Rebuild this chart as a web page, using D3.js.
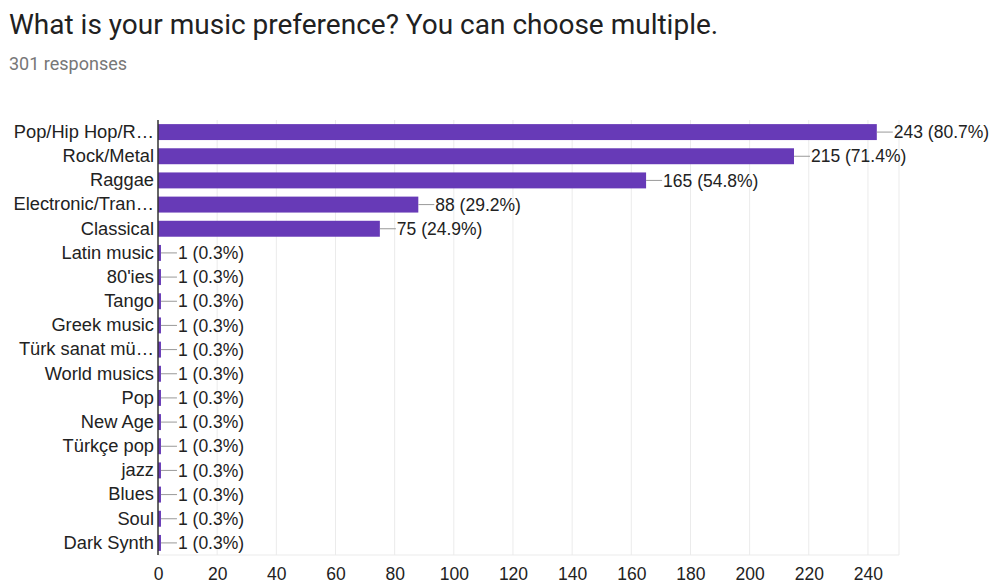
<!DOCTYPE html>
<html>
<head>
<meta charset="utf-8">
<script src="https://cdn.jsdelivr.net/npm/d3@7"></script>
<style>
  body { margin: 0; background: #fff; }
  .title { font-family: Roboto, "Liberation Sans", sans-serif; }
  .chartText { font-family: "Liberation Sans", Arial, sans-serif; fill: #222; }
</style>
</head>
<body>
<div id="chart"></div>
<script>
// chart data
var categories = [
  "Pop/Hip Hop/R\u2026", "Rock/Metal", "Raggae", "Electronic/Tran\u2026", "Classical",
  "Latin music", "80'ies", "Tango", "Greek music", "Türk sanat mü\u2026",
  "World musics", "Pop", "New Age", "Türkçe pop", "jazz", "Blues", "Soul", "Dark Synth"
];
var counts = [243, 215, 165, 88, 75, 1, 1, 1, 1, 1, 1, 1, 1, 1, 1, 1, 1, 1];
var totalResponses = 301;
var xTicks = [0, 20, 40, 60, 80, 100, 120, 140, 160, 180, 200, 220, 240];

var titleText = "What is your music preference? You can choose multiple.";
var subtitleText = totalResponses + " responses";

var width = 998;
var height = 586;

var svg = d3.select("#chart")
  .append("svg")
  .attr("width", width)
  .attr("height", height);

// Header
svg.append("text")
  .attr("class", "title")
  .attr("x", 9)
  .attr("y", 34)
  .attr("font-size", 28)
  .attr("fill", "#212121")
  .text(titleText);

svg.append("text")
  .attr("class", "title")
  .attr("x", 9)
  .attr("y", 70)
  .attr("font-size", 18)
  .attr("fill", "#777")
  .text(subtitleText);

// Plot area
var plotLeft = 158;
var plotRight = 899;
var plotTop = 120;
var plotBottom = 555;

var x = d3.scaleLinear()
  .domain([0, 250.5])
  .range([plotLeft, plotRight]);

var y = d3.scaleBand()
  .domain(categories)
  .range([plotTop, plotBottom])
  .paddingInner(0.34)
  .paddingOuter(0.17);

// gridlines
svg.append("g")
  .selectAll("line")
  .data(xTicks.slice(1))
  .enter()
  .append("line")
  .attr("x1", function(d) { return x(d); })
  .attr("x2", function(d) { return x(d); })
  .attr("y1", plotTop)
  .attr("y2", plotBottom)
  .attr("stroke", "#ebebeb")
  .attr("stroke-width", 1);

// plot frame (right + bottom)
svg.append("line")
  .attr("x1", plotRight).attr("x2", plotRight)
  .attr("y1", plotTop).attr("y2", plotBottom)
  .attr("stroke", "#ebebeb");
svg.append("line")
  .attr("x1", plotLeft).attr("x2", plotRight)
  .attr("y1", plotBottom).attr("y2", plotBottom)
  .attr("stroke", "#ebebeb");

// x axis labels
var xAxis = d3.axisBottom(x)
  .tickValues(xTicks)
  .tickSize(0)
  .tickPadding(0);

var xg = svg.append("g")
  .attr("transform", "translate(0," + (plotBottom + 13) + ")")
  .call(xAxis);
xg.select(".domain").remove();
xg.selectAll("text")
  .attr("class", "chartText")
  .attr("font-size", 17.5)
  .attr("fill", "#222");

// y axis labels
var yAxis = d3.axisLeft(y)
  .tickSize(0)
  .tickPadding(4);

var yg = svg.append("g")
  .attr("transform", "translate(" + plotLeft + ",0)")
  .call(yAxis);
yg.select(".domain").remove();
yg.selectAll("text")
  .attr("class", "chartText")
  .attr("font-size", 18.3)
  .attr("fill", "#222");

// bars
svg.append("g")
  .selectAll("rect")
  .data(counts)
  .enter()
  .append("rect")
  .attr("x", x(0))
  .attr("y", function(d, i) { return y(categories[i]); })
  .attr("width", function(d) { return x(d) - x(0); })
  .attr("height", y.bandwidth())
  .attr("fill", "#673ab7");

// leader lines + value labels
var leaderLen = 16;
var labels = svg.append("g");
counts.forEach(function(d, i) {
  var cy = y(categories[i]) + y.bandwidth() / 2;
  var xEnd = x(d);
  labels.append("line")
    .attr("x1", xEnd)
    .attr("x2", xEnd + leaderLen)
    .attr("y1", cy)
    .attr("y2", cy)
    .attr("stroke", "#999")
    .attr("stroke-width", 1);
  labels.append("text")
    .attr("class", "chartText")
    .attr("x", xEnd + leaderLen + 1)
    .attr("y", cy)
    .attr("dy", "0.35em")
    .attr("font-size", 17.5)
    .text(d + " (" + (d / totalResponses * 100).toFixed(1) + "%)");
});

// vertical axis line
svg.append("line")
  .attr("x1", plotLeft).attr("x2", plotLeft)
  .attr("y1", plotTop).attr("y2", plotBottom)
  .attr("stroke", "#333")
  .attr("stroke-width", 1.5);
</script>
</body>
</html>
